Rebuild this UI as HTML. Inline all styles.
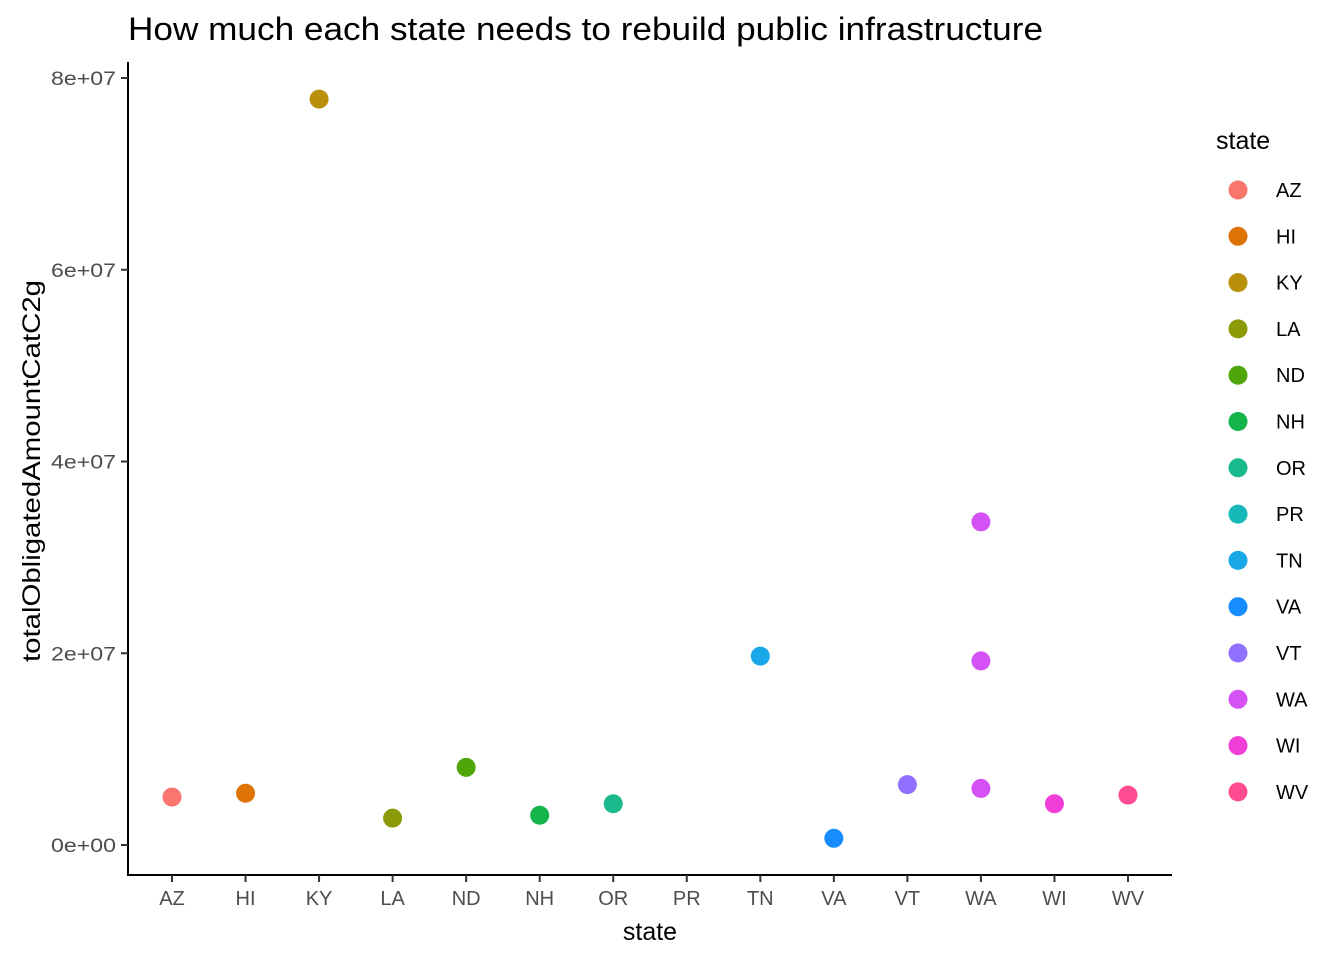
<!DOCTYPE html>
<html><head><meta charset="utf-8"><style>
body{margin:0;background:#fff;font-family:"Liberation Sans",sans-serif;}
svg text{font-family:"Liberation Sans",sans-serif;}
</style></head><body>
<svg id="chart" width="1344" height="960">
<text x="128" y="40" font-size="32" textLength="915" lengthAdjust="spacingAndGlyphs" fill="#000">How much each state needs to rebuild public infrastructure</text>
<g id="axes"></g><g id="points"></g><g id="legend"></g>
<text x="650" y="940" font-size="25" text-anchor="middle">state</text>
<text transform="translate(40,471) rotate(-90)" font-size="25" text-anchor="middle" textLength="382" lengthAdjust="spacingAndGlyphs">totalObligatedAmountCatC2g</text>
</svg>
<script>
const categories=["AZ","HI","KY","LA","ND","NH","OR","PR","TN","VA","VT","WA","WI","WV"];
const colors=["#F8766D","#DF7406","#B8900A","#8C9A0A","#4EA60A","#14B44A","#1ABA8C","#16B8B8","#18A8E8","#168CFF","#9070FF","#D452F5","#F23ED8","#FF4C91"];
const pointStates=["AZ","HI","KY","LA","ND","NH","OR","TN","VA","VT","WA","WA","WA","WI","WV"];
const pointValues=[5.0e6,5.4e6,7.78e7,2.8e6,8.1e6,3.1e6,4.3e6,1.97e7,0.7e6,6.3e6,3.37e7,1.92e7,5.9e6,4.3e6,5.2e6];
const yTicks=[0,2e7,4e7,6e7,8e7];
const yTickLabels=["0e+00","2e+07","4e+07","6e+07","8e+07"];
const NS="http://www.w3.org/2000/svg";
function mk(t,a,p){const e=document.createElementNS(NS,t);for(const k in a)e.setAttribute(k,a[k]);p.appendChild(e);return e;}
const xS=c=>172+categories.indexOf(c)*(1128-172)/13;
const yS=v=>845-v*(845-78)/8e7;
const ax=document.getElementById('axes');
let l=mk('line',{x1:128,y1:62,x2:128,y2:875,stroke:'#000','stroke-width':2},ax);


l=mk('line',{x1:127,y1:875,x2:1172,y2:875,stroke:'#000','stroke-width':2},ax);


yTicks.forEach((v,i)=>{
 mk('line',{x1:121,x2:128,y1:yS(v),y2:yS(v),stroke:'#333','stroke-width':2},ax);
 const t=mk('text',{x:116,y:yS(v)+7,'font-size':19,fill:'#4d4d4d','text-anchor':'end',textLength:65,lengthAdjust:'spacingAndGlyphs'},ax);
 t.textContent=yTickLabels[i];
 
 
});
categories.forEach(c=>{
 mk('line',{x1:xS(c),x2:xS(c),y1:875,y2:882,stroke:'#333','stroke-width':2},ax);
 const t=mk('text',{x:xS(c),y:905,'font-size':20,fill:'#4d4d4d','text-anchor':'middle'},ax);
 t.textContent=c;
 
 
});
const pg=document.getElementById('points');
pointStates.forEach((s,i)=>{
 const p=mk('circle',{cx:xS(s),cy:yS(pointValues[i]),r:9.5,fill:colors[categories.indexOf(s)]},pg);
 
 
});
const lg=document.getElementById('legend');
let tt=mk('text',{x:1216,y:149,'font-size':25},lg);
tt.textContent='state';


categories.forEach((c,i)=>{
 const y=190+i*46.3;
 const g=mk('g',{},lg);
 
 
 mk('circle',{cx:1238,cy:y,r:9.5,fill:colors[i]},g);
 const t=mk('text',{x:1276,y:y+7,'font-size':20},g);
 t.textContent=c;
});
</script>
</body></html>
